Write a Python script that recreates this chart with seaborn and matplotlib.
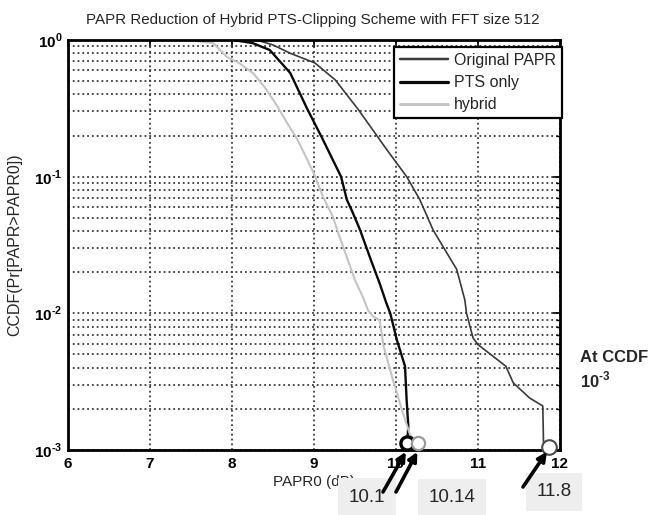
import numpy as np
import pandas as pd
import matplotlib
matplotlib.use("Agg")
import matplotlib.pyplot as plt
import matplotlib.ticker as mticker
from matplotlib.lines import Line2D
import seaborn as sns

# ---------------- data ----------------
series_names = ["Original PAPR", "PTS only", "hybrid"]

original_x = [8.30, 8.50, 8.71, 9.01, 9.26, 9.54, 9.88, 10.13, 10.29, 10.45, 10.57,
              10.74, 10.84, 10.86, 10.94, 11.00, 11.34, 11.43, 11.63, 11.79, 11.80]
original_p = [1.0, 0.92, 0.80, 0.68, 0.51, 0.31, 0.16, 0.10, 0.068, 0.041, 0.031,
              0.021, 0.0125, 0.010, 0.0066, 0.0059, 0.0041, 0.0031, 0.0024, 0.0021, 0.00105]

pts_x = [8.01, 8.25, 8.46, 8.71, 8.91, 9.11, 9.17, 9.33, 9.40, 9.47, 9.56, 9.70,
         9.80, 9.88, 9.93, 10.01, 10.11, 10.13, 10.15, 10.14]
pts_p = [1.0, 0.95, 0.845, 0.574, 0.32, 0.186, 0.157, 0.10, 0.068, 0.055, 0.041, 0.024,
         0.0166, 0.012, 0.010, 0.0064, 0.0041, 0.0023, 0.0015, 0.00118]

hybrid_x = [7.45, 7.77, 7.94, 8.10, 8.26, 8.40, 8.55, 8.65, 8.80, 8.90, 9.00, 9.11,
            9.23, 9.30, 9.37, 9.50, 9.60, 9.66, 9.72, 9.80, 9.85, 9.96, 10.08, 10.17, 10.22]
hybrid_p = [1.0, 0.95, 0.75, 0.67, 0.57, 0.45, 0.33, 0.26, 0.186, 0.14, 0.105, 0.071,
            0.051, 0.038, 0.029, 0.0175, 0.013, 0.0105, 0.0095, 0.0089, 0.0057, 0.0033,
            0.0019, 0.0013, 0.00118]

marker_x = [10.13, 10.27, 11.86]
marker_p = [0.00113, 0.00113, 0.00106]
callout_labels = ["10.1", "10.14", "11.8"]

title = "PAPR Reduction of Hybrid PTS-Clipping Scheme with FFT size 512"
xlabel = "PAPR0 (dB)"
ylabel = "CCDF(Pr[PAPR>PAPR0])"
x_ticks = [6, 7, 8, 9, 10, 11, 12]
y_ticks = [1e-3, 1e-2, 1e-1, 1e0]
y_ticklabels = [r"10$^{\text{-3}}$", r"10$^{\text{-2}}$",
                r"10$^{\text{-1}}$", r"10$^{\text{0}}$"]

# ---------------- style ----------------
sns.set_style("white")
plt.rcParams["font.family"] = ["Liberation Sans", "DejaVu Sans"]
plt.rcParams["axes.unicode_minus"] = False
plt.rcParams["mathtext.fontset"] = "custom"
plt.rcParams["mathtext.rm"] = "Liberation Sans:bold"
plt.rcParams["mathtext.bf"] = "Liberation Sans:bold"

df = pd.concat([
    pd.DataFrame({"x": original_x, "p": original_p, "series": series_names[0]}),
    pd.DataFrame({"x": pts_x, "p": pts_p, "series": series_names[1]}),
    pd.DataFrame({"x": hybrid_x, "p": hybrid_p, "series": series_names[2]}),
], ignore_index=True)

palette = {"Original PAPR": "#3a3a3a", "PTS only": "#0a0a0a", "hybrid": "#c4c4c4"}
widths = {"Original PAPR": 1.2, "PTS only": 1.7, "hybrid": 1.5}

fig = plt.figure(figsize=(6.58, 5.15), dpi=100)
ax = fig.add_axes([68 / 658, 65 / 515, 492 / 658, 410 / 515])

sns.lineplot(data=df, x="x", y="p", hue="series", palette=palette, sort=False,
             estimator=None, ax=ax, legend=False)
for line, name in zip(ax.get_lines(), series_names):
    line.set_linewidth(widths[name])

ax.set_yscale("log")
ax.set_xlim(6, 12)
ax.set_ylim(1e-3, 1)
ax.set_xticks(x_ticks)
ax.set_yticks(y_ticks)
ax.set_yticklabels(y_ticklabels)
ax.yaxis.set_minor_locator(mticker.LogLocator(base=10, subs=np.arange(2, 10), numticks=20))
ax.yaxis.set_minor_formatter(mticker.NullFormatter())

# grid (MATLAB-like dotted)
ax.grid(True, which="major", axis="both", color="#3a3a3a", linestyle=":", linewidth=1.3)
ax.grid(True, which="minor", axis="y", color="#3a3a3a", linestyle=":", linewidth=1.3)
ax.set_axisbelow(True)

# circle markers at CCDF 1e-3
mec = ["#000000", "#9a9a9a", "#4a4a4a"]
mew = [2.4, 1.6, 1.5]
ms = [9.5, 9.5, 10.5]
for i in range(3):
    ax.plot([marker_x[i]], [marker_p[i]], marker="o", mfc="white", mec=mec[i],
            mew=mew[i], ms=ms[i], clip_on=False, zorder=6, linestyle="none")

for s in ax.spines.values():
    s.set_visible(True)
    s.set_color("black")
    s.set_linewidth(2.0)

ax.tick_params(axis="both", which="both", direction="in", top=True, right=True,
               colors="black", labelsize=11)
ax.tick_params(which="major", length=5, width=1.2)
ax.tick_params(which="minor", length=3, width=1.0)
ax.tick_params(axis="x", pad=5)
ax.tick_params(axis="y", pad=4)
for lab in ax.get_xticklabels() + ax.get_yticklabels():
    lab.set_fontweight("bold")

ax.set_xlabel(xlabel, fontsize=11)
ax.xaxis.set_label_coords(0.5, -0.06)
ax.set_ylabel(ylabel, fontsize=11.5)
ax.yaxis.set_label_coords(-0.093, 0.5)

fig.text(313 / 658, 1 - 20 / 515, title, ha="center", va="center", fontsize=10.9)

# legend
handles = [Line2D([0], [0], color=palette[n], lw=widths[n] + 0.6) for n in series_names]
leg = ax.legend(handles, series_names, loc="upper right", bbox_to_anchor=(1.004, 0.983),
                borderaxespad=0, fontsize=11.5, frameon=True, fancybox=False,
                edgecolor="black", framealpha=1, handlelength=3.0, handletextpad=0.35,
                labelspacing=0.45, borderpad=0.38)
leg.get_frame().set_linewidth(1.6)

# callout boxes (below the arrows)
callout_pos = [(367, 497), (452, 498), (554, 492)]
for (cx, cy), lab in zip(callout_pos, callout_labels):
    ax.text(cx / 658, 1 - cy / 515, lab, transform=fig.transFigure, ha="center",
            va="center", fontsize=13.5, clip_on=False, zorder=5,
            bbox=dict(boxstyle="square,pad=0.55", facecolor="#eeeeee", edgecolor="none"))

# arrows
arrow_tails = [(383, 515 - 492), (396, 515 - 492), (523, 515 - 487)]
arrow_heads_x = [10.12, 10.26, 11.84]
for (tx, ty), hx in zip(arrow_tails, arrow_heads_x):
    ax.annotate("", xy=(hx, 0.00097), xycoords="data", xytext=(tx, ty),
                textcoords="figure pixels",
                arrowprops=dict(arrowstyle="-|>", lw=2.6, color="black", mutation_scale=13,
                                shrinkA=0, shrinkB=0),
                annotation_clip=False, zorder=8)

fig.text(580 / 658, 1 - 358 / 515, "At CCDF", ha="left", va="center", fontsize=12,
         fontweight="bold")
fig.text(580 / 658, 1 - 380 / 515, r"10$^{\text{-3}}$", ha="left", va="center",
         fontsize=12, fontweight="bold")

fig.savefig("out.png", dpi=100)
